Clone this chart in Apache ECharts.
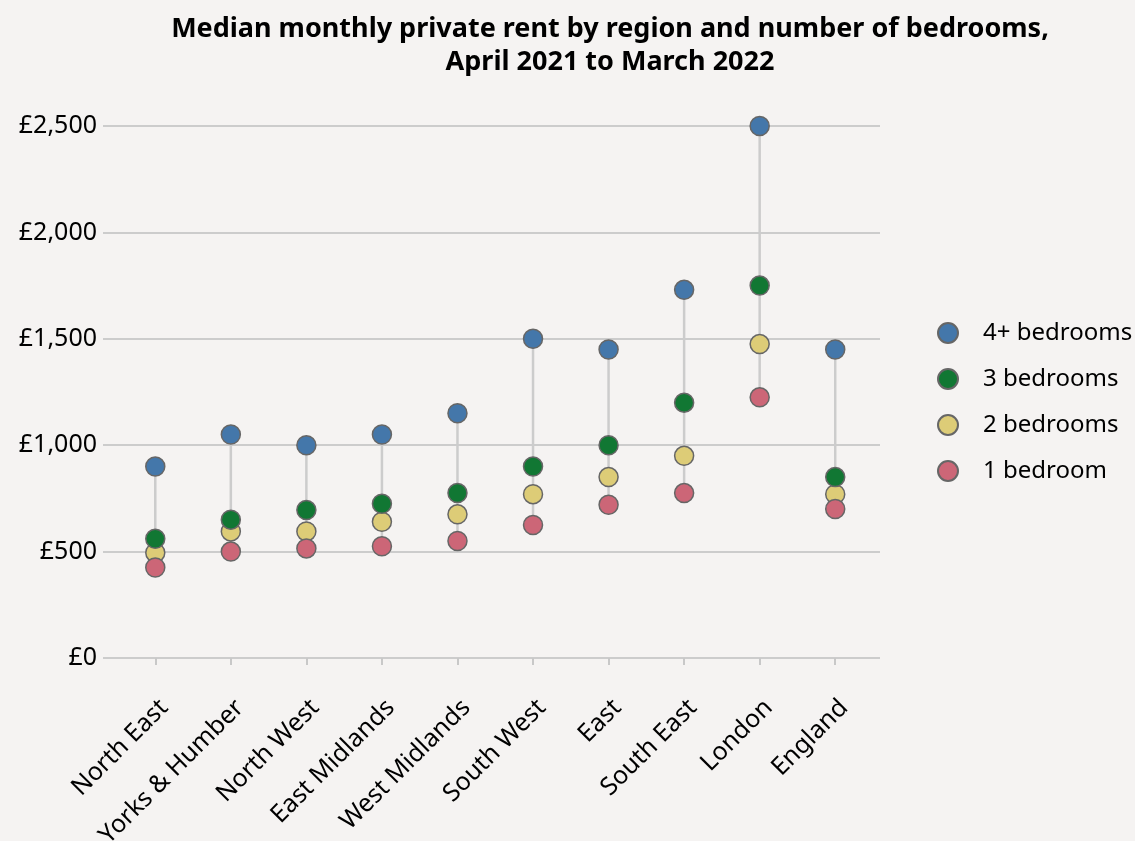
<!DOCTYPE html>
<html>
<head>
<meta charset="utf-8">
<script src="https://cdn.jsdelivr.net/npm/echarts@6/dist/echarts.min.js"></script>
<style>
  html, body { margin: 0; padding: 0; background: #f5f3f2; }
  #chart { width: 1135px; height: 841px; }
</style>
</head>
<body>
<div id="chart"></div>
<script>
const regions = ['North East', 'Yorks & Humber', 'North West', 'East Midlands', 'West Midlands',
  'South West', 'East', 'South East', 'London', 'England'];
const bed4 = [900, 1050, 1000, 1050, 1150, 1500, 1450, 1730, 2500, 1450];
const bed3 = [560, 650, 695, 725, 775, 900, 1000, 1200, 1750, 850];
const bed2 = [495, 595, 595, 640, 675, 770, 850, 950, 1475, 770];
const bed1 = [425, 500, 515, 525, 550, 625, 720, 775, 1225, 700];
const yTicks = [0, 500, 1000, 1500, 2000, 2500];

const font = '"Noto Sans", sans-serif';
const chart = echarts.init(document.getElementById('chart'));

function dots(name, data, color) {
  return {
    name: name,
    type: 'scatter',
    xAxisIndex: 0,
    yAxisIndex: 0,
    data: data,
    symbol: 'circle',
    symbolSize: 19,
    itemStyle: { color: color, borderColor: '#666', borderWidth: 1.5, opacity: 1 },
    emphasis: { disabled: true }
  };
}

// vertical connector from lowest to highest value in each region
const spans = regions.map((r, i) => [i, bed1[i], bed4[i]]);

chart.setOption({
  backgroundColor: '#f5f3f2',
  animation: false,
  textStyle: { fontFamily: font },
  title: {
    text: 'Median monthly private rent by region and number of bedrooms,\nApril 2021 to March 2022',
    left: 605,
    top: 8,
    textAlign: 'center',
    textStyle: { fontFamily: font, fontWeight: 'bold', fontSize: 27, lineHeight: 33, color: '#000' }
  },
  legend: {
    orient: 'vertical',
    left: 932,
    top: 316,
    icon: 'circle',
    itemWidth: 20,
    itemHeight: 20,
    itemGap: 22,
    data: ['4+ bedrooms', '3 bedrooms', '2 bedrooms', '1 bedroom'],
    textStyle: { fontFamily: font, fontSize: 24, color: '#000', padding: [0, 0, 0, 20] }
  },
  grid: [
    { left: 117.5, right: 262, top: 126, bottom: 183, outerBoundsMode: 'none', containLabel: false },
    { left: 103, right: 255, top: 126, bottom: 183, outerBoundsMode: 'none', containLabel: false }
  ],
  xAxis: [
    {
      type: 'category',
      gridIndex: 0,
      data: regions,
      boundaryGap: true,
      offset: 27,
      axisLine: { show: false },
      axisTick: { show: true, alignWithLabel: true, length: 7, lineStyle: { color: '#c8c8c8', width: 2 } },
      axisLabel: { rotate: 45, fontSize: 25, color: '#000', margin: 10, interval: 0, verticalAlign: 'top' },
      splitLine: { show: false }
    },
    { type: 'value', gridIndex: 1, show: false }
  ],
  yAxis: [
    { type: 'value', gridIndex: 0, min: 0, max: 2500, interval: 500, show: false },
    {
      type: 'value',
      gridIndex: 1,
      min: yTicks[0],
      max: yTicks[yTicks.length - 1],
      interval: 500,
      axisLine: { show: false },
      axisTick: { show: false },
      axisLabel: {
        fontSize: 25,
        color: '#000',
        margin: 6,
        formatter: v => '£' + v.toLocaleString('en-GB')
      },
      splitLine: { lineStyle: { color: '#cccccc', width: 2 } }
    }
  ],
  series: [
    {
      type: 'custom',
      xAxisIndex: 0,
      yAxisIndex: 0,
      data: spans,
      silent: true,
      z: 1,
      renderItem: function (params, api) {
        const a = api.coord([api.value(0), api.value(1)]);
        const b = api.coord([api.value(0), api.value(2)]);
        return {
          type: 'line',
          shape: { x1: a[0], y1: a[1], x2: b[0], y2: b[1] },
          style: { stroke: '#cccccc', lineWidth: 2.5 }
        };
      }
    },
    dots('2 bedrooms', bed2, '#ddcc77'),
    dots('1 bedroom', bed1, '#cc6677'),
    dots('3 bedrooms', bed3, '#117733'),
    dots('4+ bedrooms', bed4, '#4477aa')
  ]
});
</script>
</body>
</html>
